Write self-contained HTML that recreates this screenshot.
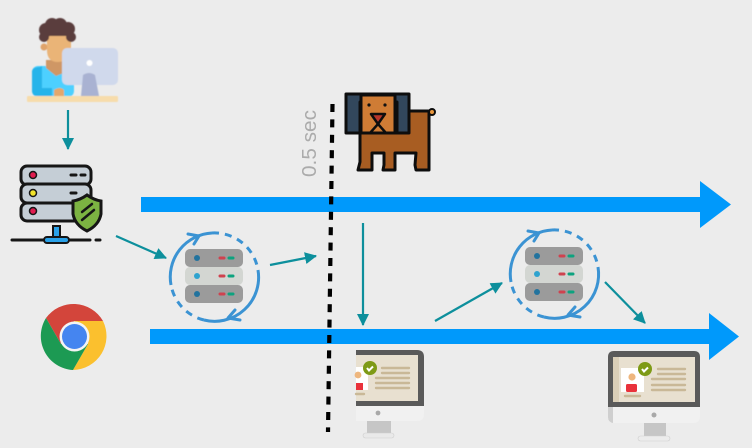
<!DOCTYPE html>
<html><head><meta charset="utf-8">
<style>html,body{margin:0;padding:0;background:#ececec}svg{display:block}</style></head>
<body>
<svg width="752" height="448" viewBox="0 0 752 448" xmlns="http://www.w3.org/2000/svg">
<defs>
<filter id="b" x="-10%" y="-10%" width="120%" height="120%"><feGaussianBlur stdDeviation="0.5"/></filter>
<filter id="s" x="-20%" y="-20%" width="140%" height="140%"><feGaussianBlur stdDeviation="0.35"/></filter>
<marker id="t" markerUnits="userSpaceOnUse" markerWidth="13" markerHeight="12" refX="11" refY="6" orient="auto"><path d="M0,0 L12,6 L0,12 Z" fill="#088f9c"/></marker>
<g id="srv">
<rect x="0" y="0" width="58" height="18" rx="5" fill="#9b9b9b"/>
<rect x="0" y="18" width="58" height="18" rx="5" fill="#d3d6d2"/>
<rect x="0" y="36" width="58" height="18" rx="5" fill="#9b9b9b"/>
<circle cx="12" cy="9" r="3" fill="#24739e"/><circle cx="12" cy="27" r="3" fill="#2ea3cf"/><circle cx="12" cy="45" r="3" fill="#24739e"/>
<g stroke-width="3" stroke-linecap="round">
<path d="M35,9h4M35,27h4M35,45h4" stroke="#cf4350"/>
<path d="M44,9h4M44,27h4M44,45h4" stroke="#0fa37f"/>
</g>
</g>
<g id="ring" fill="none" stroke="#3a93d3" stroke-width="3">
<path d="M-43,8 A44,44 0 0 1 -2,-44"/>
<path d="M-2,-44 A44,44 0 0 1 44,-7" stroke-dasharray="7 6"/>
<path d="M44,-7 A44,44 0 0 1 -10,43"/>
<path d="M-10,43 A44,44 0 0 1 -43,8" stroke-dasharray="7 6"/>
<path d="M-26,-43 L-15,-41 L-20,-33" stroke-linecap="round" stroke-linejoin="round"/>
<path d="M26,43 L14,41 L21,33" stroke-linecap="round" stroke-linejoin="round"/>
</g>
</defs>
<rect width="752" height="448" fill="#ececec"/>

<!-- blue timeline arrows -->
<path d="M141,197H700V181L731,204.5L700,228V212H141Z" fill="#0099fb"/>
<path d="M150,329H709V313L739,336.5L709,360V344H150Z" fill="#0099fb"/>

<!-- person -->
<g filter="url(#b)">
<rect x="32" y="66" width="42" height="31" rx="6" fill="#4dd0ff"/>
<path d="M32,72Q32,67 40,67L42,66V88H52V96H38Q32,96 32,90Z" fill="#27b4ea"/>
<path d="M46,60H66V72L56,76L46,68Z" fill="#cf9765"/>
<path d="M54,96V90Q60,86 64,90V96Z" fill="#e3a76c"/>
<circle cx="44" cy="47" r="3.5" fill="#dfa36a"/>
<path d="M47,36H71V54Q66,62 58,62Q47,62 47,50Z" fill="#eab477"/>
<g fill="#5a3d3d">
<circle cx="46" cy="30" r="7"/><circle cx="44" cy="37" r="5"/><circle cx="52" cy="25" r="7"/>
<circle cx="60" cy="25" r="7"/><circle cx="68" cy="29" r="7"/><circle cx="71" cy="37" r="5"/>
<rect x="46" y="28" width="24" height="8"/>
</g>
<rect x="62" y="48" width="56" height="37" rx="5" fill="#d0d9ec"/>
<path d="M83,75Q89,71 95,75L99,96H81Z" fill="#a9b2d2"/>
<circle cx="89.5" cy="63" r="3" fill="#fff"/>
<rect x="27" y="96" width="91" height="6" rx="1" fill="#f7dcab"/>
</g>

<!-- server with shield -->
<g filter="url(#s)">
<g fill="#c5ced6" stroke="#151515" stroke-width="3">
<rect x="21" y="166" width="70" height="19" rx="6"/>
<rect x="21" y="184" width="70" height="19" rx="6"/>
<rect x="21" y="203" width="70" height="18" rx="6"/>
</g>
<g stroke="#151515" stroke-width="1.5">
<circle cx="33" cy="175" r="3.5" fill="#e01a4f"/>
<circle cx="33" cy="193" r="3.5" fill="#f1e22b"/>
<circle cx="33" cy="211" r="3.5" fill="#e01a4f"/>
</g>
<path d="M71,175h5M81,175h4M71,193h5" stroke="#151515" stroke-width="3" stroke-linecap="round"/>
<path d="M87,195Q94,200 101,201V214Q99,225 87,231Q75,225 73,214V201Q80,200 87,195Z" fill="#7cb342" stroke="#151515" stroke-width="3"/>
<path d="M82,212L92,204M82,220L94,210" stroke="#151515" stroke-width="2.5" stroke-linecap="round"/>
<rect x="53" y="226" width="7" height="12" fill="#2aa1e8" stroke="#151515" stroke-width="2"/>
<path d="M12,240H90M96,240H100" stroke="#151515" stroke-width="3" stroke-linecap="round"/>
<rect x="44" y="237" width="25" height="6" rx="3" fill="#2aa1e8" stroke="#151515" stroke-width="2"/>
</g>

<!-- chrome -->
<g filter="url(#s)">
<path d="M46,318A34,34 0 0 1 103,321L74,321L61,344Z" fill="#d3443a"/>
<path d="M103,321A34,34 0 0 1 73,370L88,344L74,321Z" fill="#fbc02d"/>
<path d="M46,318L61,344L88,344L73,370A34,34 0 0 1 46,318Z" fill="#1f9a53"/>
<circle cx="74.5" cy="336.5" r="15" fill="#f4f4f4"/>
<circle cx="74.5" cy="336.5" r="12.5" fill="#4585f0"/>
</g>

<!-- server rings -->
<g filter="url(#s)">
<use href="#srv" x="185" y="249"/>
<use href="#ring" transform="translate(214,277)"/>
<use href="#srv" x="525" y="247"/>
<use href="#ring" transform="translate(554,274)"/>
</g>

<!-- dog -->
<g filter="url(#s)" stroke="#111" stroke-width="3" stroke-linejoin="round">
<path d="M398,111H429V170H416L415,165L416,153H395V170H383L384,165V153H372V170H358L360,162V133H398Z" fill="#a85d24"/>
<circle cx="432" cy="112" r="3" fill="#e8963c" stroke-width="2"/>
<path d="M346,94H409V133H397V102H360V133H346Z" fill="#33475b"/>
<rect x="361" y="95" width="34" height="38" fill="#cf7c35"/>
<path d="M371,114H385L378,124Z" fill="#b8352a" stroke-width="2.5"/>
<path d="M378,124L370,133M378,124L386,133" fill="none" stroke-width="2.5"/>
</g>
<circle cx="369" cy="105" r="1.6" fill="#111"/><circle cx="385" cy="105" r="1.6" fill="#111"/>

<!-- dashed line -->
<line x1="332.5" y1="104" x2="328" y2="432" stroke="#000" stroke-width="4.2" stroke-dasharray="8 7.4"/>
<text transform="translate(316,177) rotate(-90)" font-family="'Liberation Sans',sans-serif" font-size="20" fill="#ababab" textLength="67" lengthAdjust="spacingAndGlyphs">0.5 sec</text>

<!-- monitor 1 -->
<g filter="url(#s)">
<path d="M356,350H417Q424,350 424,357V414Q424,421 417,421H356Z" fill="#f1f1f1"/>
<path d="M356,350H417Q424,350 424,357V406H356Z" fill="#5a5a5a"/>
<rect x="356" y="355" width="62" height="46" fill="#e8e0d0"/>
<rect x="367" y="421" width="24" height="13" fill="#c6c6c6"/>
<rect x="363" y="433" width="31" height="5" rx="2.5" fill="#e9e9e9" stroke="#cfcfcf" stroke-width=".6"/>
<circle cx="378" cy="413" r="2.4" fill="#a9a9a9"/>
<rect x="356" y="367" width="12" height="23" fill="#fff"/>
<circle cx="358" cy="375" r="3.4" fill="#eeb67e"/>
<rect x="356" y="383" width="7" height="7" fill="#e9303a"/>
<circle cx="370" cy="368" r="7" fill="#7e9a14"/>
<path d="M367,368l2,2.5l4,-4" stroke="#fff" stroke-width="2" fill="none"/>
<g stroke="#c9b897" stroke-width="2.4" stroke-linecap="round">
<path d="M382,368H409M382,373H409M376,378H409M376,383H409M376,388H409M356,394H364"/>
</g>
</g>

<!-- monitor 2 -->
<g filter="url(#s)">
<rect x="608" y="351" width="92" height="72" rx="6" fill="#f1f1f1"/>
<path d="M614,351H694Q700,351 700,357V407H608V357Q608,351 614,351Z" fill="#5a5a5a"/>
<path d="M608,407H613V423Q608,422 608,417Z" fill="#cfcfcf"/>
<rect x="613" y="357" width="82" height="45" fill="#e8e0d0"/>
<rect x="613" y="357" width="6" height="45" fill="#dacfb8"/>
<rect x="644" y="423" width="22" height="14" fill="#c6c6c6"/>
<rect x="638" y="436" width="32" height="5" rx="2.5" fill="#ececec" stroke="#cfcfcf" stroke-width=".6"/>
<circle cx="654" cy="415" r="2.5" fill="#a9a9a9"/>
<rect x="621" y="368" width="23" height="24" fill="#fff"/>
<circle cx="632" cy="377" r="3.6" fill="#eeb67e"/>
<rect x="626" y="384" width="11" height="8" rx="1.5" fill="#e9303a"/>
<circle cx="645" cy="369" r="7" fill="#7e9a14"/>
<path d="M642,369l2,2.5l4,-4" stroke="#fff" stroke-width="2" fill="none"/>
<g stroke="#c9b897" stroke-width="2.4" stroke-linecap="round">
<path d="M658,369H685M658,374H685M652,379H685M652,385H685M652,390H685M625,396H640"/>
</g>
</g>

<!-- teal arrows -->
<g stroke="#088f9c" stroke-width="2.2" fill="none" filter="url(#s)">
<line x1="68" y1="110" x2="68" y2="149" marker-end="url(#t)"/>
<line x1="116" y1="236" x2="166" y2="258" marker-end="url(#t)"/>
<line x1="270" y1="265" x2="316" y2="256" marker-end="url(#t)"/>
<line x1="363" y1="223" x2="363" y2="325" marker-end="url(#t)"/>
<line x1="435" y1="321" x2="502" y2="283" marker-end="url(#t)"/>
<line x1="605" y1="282" x2="645" y2="323" marker-end="url(#t)"/>
</g>
</svg>
</body></html>
